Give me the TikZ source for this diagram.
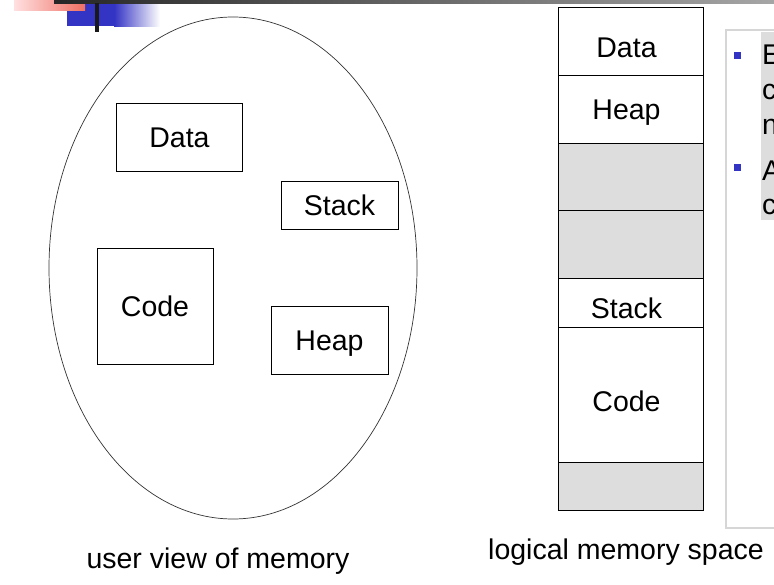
\documentclass[tikz,border=0pt]{standalone}
\usepackage{fontspec}
\setmainfont{Liberation Sans}
\usetikzlibrary{positioning,shapes.geometric}
\definecolor{slidegray}{HTML}{DDDDDD}
\definecolor{slideblue}{HTML}{3333C4}
\definecolor{slidered}{HTML}{EF6F63}
\definecolor{framegray}{HTML}{D6D6D6}
\newcommand{\slidefont}{\fontsize{28.5}{35}\selectfont}
\tikzset{
  segbox/.style={draw,line width=.9pt,font=\slidefont,text height=20.5pt,text depth=0pt,inner sep=0pt},
  memcell/.style={draw,line width=.9pt,font=\slidefont,minimum width=145pt,text height=33pt,text depth=0pt,inner sep=0pt,outer sep=0pt,
    execute at begin node={\kern-8pt}},
  freecell/.style={memcell,fill=slidegray},
  caption/.style={font=\slidefont,anchor=base,inner sep=0pt},
  bulletsq/.style={fill=slideblue,minimum size=7pt,inner sep=0pt},
  bullettext/.style={font=\slidefont,anchor=base west,inner sep=0pt}
}

\begin{document}
\begin{tikzpicture}[x=1pt,y=-1pt]
  \useasboundingbox (0,0) rectangle (774,584);

  % --- slide decoration ---
  \fill[slideblue] (67,3) rectangle (114,26);
  \shade[left color=slideblue,right color=white] (114,3) rectangle (160,26);
  \shade[left color=red!12,right color=slidered] (14,0) rectangle (85,10);
  \shade[left color=black!85,right color=black!35] (54,0) rectangle (774,3);
  \fill[black!90] (95,3) rectangle (99,32);

  % --- user view of memory ---
  \node[ellipse,draw=black!80,line width=.7pt,minimum width=368pt,minimum height=502pt,inner sep=0pt] (userview) at (233,268) {};
  \node[segbox,minimum width=126pt,minimum height=68pt] (segdata) at (179.5,137) {Data};
  \node[segbox,minimum width=117pt,minimum height=48pt] (segstack) at (339.5,205) {Stack};
  \node[segbox,minimum width=116pt,minimum height=116pt] (segcode) at (155,306) {Code};
  \node[segbox,minimum width=117pt,minimum height=68pt] (segheap) at (329.5,340) {Heap};
  \node[caption] (userlabel) at (218,568) {user view of memory};

  % --- logical memory space ---
  \node[memcell,minimum height=68pt,anchor=north] (coldata) at (630.5,7) {Data};
  \node[memcell,minimum height=68pt,text height=21pt,below=0pt of coldata] (colheap) {Heap};
  \node[freecell,minimum height=67pt,below=0pt of colheap] (colfreea) {};
  \node[freecell,minimum height=68pt,below=0pt of colfreea] (colfreeb) {};
  \node[memcell,minimum height=49pt,text height=31pt,below=0pt of colfreeb] (colstack) {Stack};
  \node[memcell,minimum height=135pt,below=0pt of colstack] (colcode) {Code};
  \node[freecell,minimum height=48pt,below=0pt of colcode] (colfreec) {};
  \node[caption] (logiclabel) at (626,559) {logical memory space};

  % --- bullet box, cut at the right edge ---
  \draw[framegray,line width=2pt] (790,30) -| (726,528) -- (790,528);
  \fill[slidegray] (761,32) rectangle (790,220);
  \node[bulletsq] (bulleta) at (737.5,55.5) {};
  \node[bulletsq] (bulletb) at (737.5,167.5) {};
  \foreach \ltr/\yy [count=\k] in {E/64,c/99,n/134,A/180,c/214}
    \node[bullettext] (bulletline\k) at (762,\yy) {\ltr};

\end{tikzpicture}
\end{document}
